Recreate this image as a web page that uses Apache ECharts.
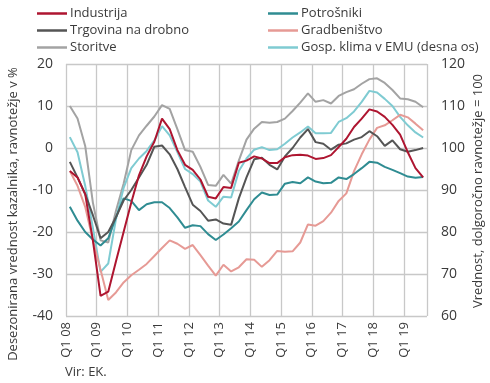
<!DOCTYPE html>
<html><head><meta charset="utf-8">
<script src="https://cdn.jsdelivr.net/npm/echarts@6/dist/echarts.min.js"></script>
<style>html,body{margin:0;padding:0;background:#fff}#c{width:490px;height:383px}</style>
</head><body><div id="c"></div>
<script>
// Quarterly data, Q1 2008 .. Q3 2019
const tickLabels = ['Q1 08','Q1 09','Q1 10','Q1 11','Q1 12','Q1 13','Q1 14','Q1 15','Q1 16','Q1 17','Q1 18','Q1 19'];
const industrija = [-5.5,-7,-11,-22,-35.2,-34.2,-27,-20,-13,-6.5,-2,1.5,7,4.5,-0.5,-4,-5.2,-7.5,-11.6,-12,-9.3,-9.5,-3.5,-3,-2,-2.5,-3.6,-3.6,-2.2,-1.7,-1.6,-1.8,-2.6,-2.4,-1.7,0.2,2.2,5,7,9.2,8.7,7.4,5.5,3.2,-1,-4.8,-7];
const trgovina = [-3.3,-7,-11,-16,-21.5,-20,-16.5,-12.5,-10,-7,-4,0.3,0.6,-1.5,-5,-9.3,-13.5,-15,-17.3,-17,-18,-18.3,-12,-7,-2.7,-2.3,-4,-5.1,-2,0,2.5,4.5,1.4,1,-0.4,0.8,1.1,2,2.6,4,2.8,0.5,1.8,-0.3,-0.9,-0.5,0];
const storitve = [10,7,0.5,-13,-22,-22.5,-15,-8.5,-0.5,3,5.3,7.5,10.2,9.3,4.5,-0.5,-0.9,-4.5,-8.8,-9,-6.4,-8.5,-3,2,4.6,6.2,6,6.2,7,8.8,10.8,13,11,11.4,10.6,12.4,13.3,14,15.3,16.4,16.6,15.5,13.8,11.8,11.6,11,9.7];
const potrosniki = [-14,-17.3,-20,-21.8,-23.2,-21.5,-16.5,-12,-12.6,-14.8,-13.4,-12.9,-12.9,-14.3,-16.5,-19,-18.4,-18.6,-20.5,-21.9,-20.6,-19.1,-17.5,-14.8,-12.2,-10.6,-11.2,-11.1,-8.5,-8.1,-8.4,-7,-8,-8.4,-8.3,-7,-7.4,-6.2,-4.8,-3.3,-3.5,-4.5,-5.2,-6,-6.8,-7.1,-6.9];
const gradbenistvo = [-5.5,-9,-14,-22,-29,-36.2,-34.4,-32,-30.3,-29,-27.6,-25.7,-23.8,-22,-22.8,-24,-23.1,-25.5,-28,-30.4,-27.8,-29.4,-28.4,-26.5,-26.6,-28.3,-26.7,-24.5,-24.7,-24.6,-22.5,-18.2,-18.5,-17.4,-15.4,-12.6,-10.8,-5.5,-1.5,2,4.8,5.4,6.6,7.9,7.3,5.8,4.2];
const klima = [102.6,99,91,81,70.5,72.5,83,90.5,95.2,97.5,99.3,101.8,105.2,103,99,95,93.8,92,87.5,86,88.4,88.2,94.5,97.5,99.6,100.2,99.5,99.7,101,102.5,103.7,105.1,103.5,103.5,103.6,106.2,107.1,108.7,111,113.6,113.2,111.7,110,107.4,105.4,103.7,102.5];

const FONT = 'Open Sans';
const TXT = '#3a3a3a';
function pairs(arr){ return arr.map((v,i)=>[i+0.5, v]); }

const chart = echarts.init(document.getElementById('c'), null, {renderer:'canvas'});
function ser(name, data, color, yi){
  return {name, type:'line', data:pairs(data), yAxisIndex:yi||0, showSymbol:false, symbol:'none',
    lineStyle:{width:2, color}, itemStyle:{color}, emphasis:{disabled:true}, animation:false};
}
const legendCommon = {orient:'vertical', top:0, icon:'rect', itemWidth:30, itemHeight:2.5, itemGap:0,
  textStyle:{fontFamily:FONT, fontSize:13, color:TXT, lineHeight:17, padding:[0,0,0,-2]}, selectedMode:false};
chart.setOption({
  animation:false,
  grid:{left:66, right:63, top:64, bottom:67, containLabel:false},
  legend:[
    Object.assign({left:32, data:['Industrija','Trgovina na drobno','Storitve']}, legendCommon),
    Object.assign({left:263, data:['Potrošniki','Gradbeništvo','Gosp. klima v EMU (desna os)']}, legendCommon)
  ],
  xAxis:{type:'value', min:0, max:47, interval:4,
    axisLine:{show:false}, axisTick:{show:false},
    splitLine:{show:true, lineStyle:{color:'#c8c8c8', width:1.3}},
    axisLabel:{rotate:90, margin:6, fontFamily:FONT, fontSize:13, color:TXT,
      formatter:(v)=> (v%4===0 && v/4 < tickLabels.length) ? tickLabels[v/4] : ''}},
  yAxis:[
    {type:'value', min:-40, max:20, interval:10, axisLine:{show:false}, axisTick:{show:false},
     splitLine:{lineStyle:{color:'#c8c8c8', width:1.3}},
     axisLabel:{margin:13, fontFamily:FONT, fontSize:14, color:TXT}},
    {type:'value', min:60, max:120, interval:10, axisLine:{show:false}, axisTick:{show:false},
     splitLine:{show:false},
     axisLabel:{margin:14, fontFamily:FONT, fontSize:14, color:TXT}}
  ],
  graphic:[
    {type:'text', x:13, y:214, rotation:Math.PI/2,
     style:{text:'Desezonirana vrednost kazalnika, ravnotežje v %', fontFamily:FONT, fontSize:13, fill:TXT, align:'center', verticalAlign:'middle'}},
    {type:'text', x:478, y:191, rotation:Math.PI/2,
     style:{text:'Vrednost, dolgoročno ravnotežje = 100', fontFamily:FONT, fontSize:13, fill:TXT, align:'center', verticalAlign:'middle'}},
    {type:'text', x:65, y:372,
     style:{text:'Vir: EK.', fontFamily:FONT, fontSize:13, fill:TXT, align:'left', verticalAlign:'middle'}}
  ],
  series:[
    ser('Storitve', storitve, '#a3a3a3'),
    ser('Gosp. klima v EMU (desna os)', klima, '#7fcbd2', 1),
    ser('Gradbeništvo', gradbenistvo, '#e69a95'),
    ser('Potrošniki', potrosniki, '#2f8c92'),
    ser('Trgovina na drobno', trgovina, '#555555'),
    ser('Industrija', industrija, '#ae1530')
  ]
});
</script></body></html>
